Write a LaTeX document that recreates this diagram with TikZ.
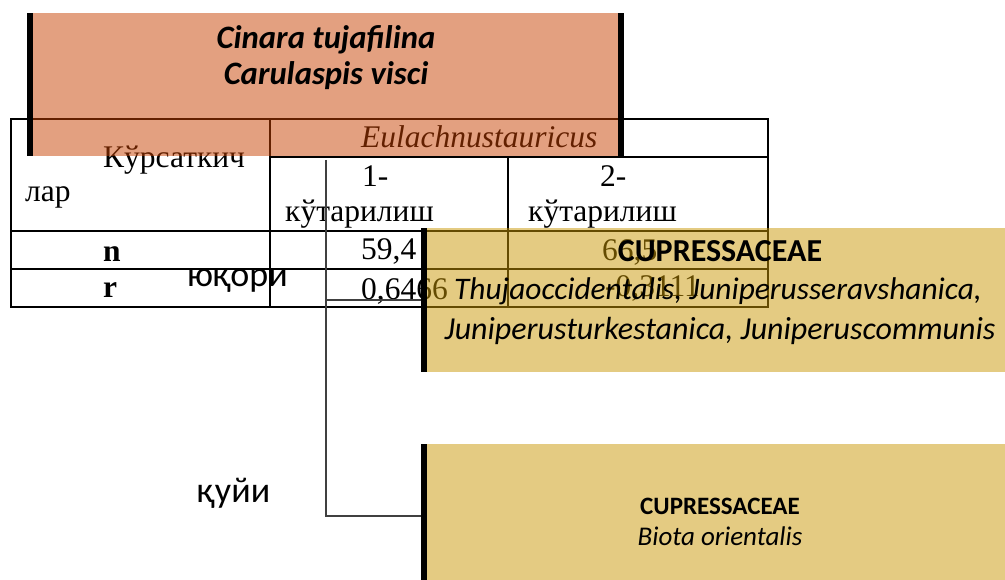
\documentclass[tikz,border=0pt]{standalone}
\usepackage{fontspec}
\setmainfont{Liberation Serif}
\newfontfamily\calfont{Carlito}
\definecolor{salmonc}{RGB}{199,65,1}
\definecolor{goldc}{RGB}{201,151,5}
\begin{document}
\begin{tikzpicture}[x=1pt,y=-1pt,
  tline/.style={line width=2pt,draw=black},
  conn/.style={line width=1.3pt,draw=black!75},
  ser/.style={font=\fontsize{31.5}{36}\selectfont,inner sep=0pt,anchor=base west},
  serb/.style={ser,font=\fontsize{31.5}{36}\selectfont\bfseries},
  seri/.style={ser,font=\fontsize{31.5}{36}\selectfont\itshape},
  sans/.style={font=\calfont\fontsize{36}{40}\selectfont,inner sep=0pt,anchor=base west},
  overbox/.style={draw=none,inner sep=0pt,outer sep=0pt,anchor=north west,fill opacity=0.5,text opacity=1},
  salbox/.style={overbox,fill=salmonc},
  goldbox/.style={overbox,fill=goldc},
  bartext/.style={inner sep=0pt,anchor=base,font=\calfont\fontsize{30}{36}\selectfont}
]
\useasboundingbox (0,0) rectangle (1005,580);
% table
\draw[tline] (11,119) rectangle (768,307);
\draw[tline] (270,119) -- (270,307);
\draw[tline] (270,157) -- (768,157);
\draw[tline] (508,157) -- (508,307);
\draw[tline] (11,231) -- (768,231);
\draw[tline] (11,269) -- (768,269);
\node[ser] (h1) at (103,168) {Кўрсаткич};
\node[ser] (h2) at (25,202) {лар};
\node[seri] (h3) at (361,148) {Eulachnustauricus};
\node[ser] (c1a) at (362,187) {1-};
\node[ser] (c1b) at (285,222) {кўтарилиш};
\node[ser] (c2a) at (600,187) {2-};
\node[ser] (c2b) at (528,222) {кўтарилиш};
\node[serb] (rn) at (103,262) {n};
\node[serb] (rr) at (103,298) {r};
\node[ser] (v1) at (361,260) {59,4};
\node[ser] (v2) at (361,300) {0,6466};
\node[ser] (v3) at (602,261) {66,5};
\node[ser] (v4) at (605,297) {-0,3111};
\node[sans] (up) at (187,287) {юқори};
\node[sans] (down) at (197,502) {қуйи};
\coordinate (ctop) at (326,160);
% salmon box
\node[salbox,minimum width=597pt,minimum height=143pt] (s) at (27,13) {};
\fill[black] (s.north west) rectangle ([xshift=6pt]s.south west);
\fill[black] ([xshift=-6pt]s.north east) rectangle (s.south east);
\node[bartext,font=\calfont\fontsize{32.7}{36}\selectfont\bfseries\itshape] (s1) at (326,49) {Cinara tujafilina};
\node[bartext,font=\calfont\fontsize{32.7}{36}\selectfont\bfseries\itshape] (s2) at (326,85) {Carulaspis visci};
% gold boxes
\node[goldbox,minimum width=584pt,minimum height=144pt] (g1) at (421,228) {};
\node[goldbox,minimum width=584pt,minimum height=136pt] (g2) at (421,444) {};
\fill[black] (g1.north west) rectangle ([xshift=6pt]g1.south west);
\fill[black] (g2.north west) rectangle ([xshift=6pt]g2.south west);
\node[bartext,font=\calfont\fontsize{32}{36}\selectfont\bfseries] (g1a) at (720,262) {CUPRESSACEAE};
\node[bartext,font=\calfont\fontsize{31.4}{36}\selectfont\itshape] (g1b) at (718,300) {Thujaoccidentalis, Juniperusseravshanica,};
\node[bartext,font=\calfont\fontsize{32}{36}\selectfont\itshape] (g1c) at (720,340) {Juniperusturkestanica, Juniperuscommunis};
\node[bartext,font=\calfont\fontsize{25}{30}\selectfont\bfseries] (g2a) at (720,514) {CUPRESSACEAE};
\node[bartext,font=\calfont\fontsize{27}{30}\selectfont\itshape] (g2b) at (720,545) {Biota orientalis};
% connectors
\coordinate (g2c) at ([yshift=-4pt]g2.west);
\draw[conn] (g1.west) -- (g1.west -| ctop) -- (ctop);
\draw[conn] (ctop) |- (g2c);
\end{tikzpicture}
\end{document}
